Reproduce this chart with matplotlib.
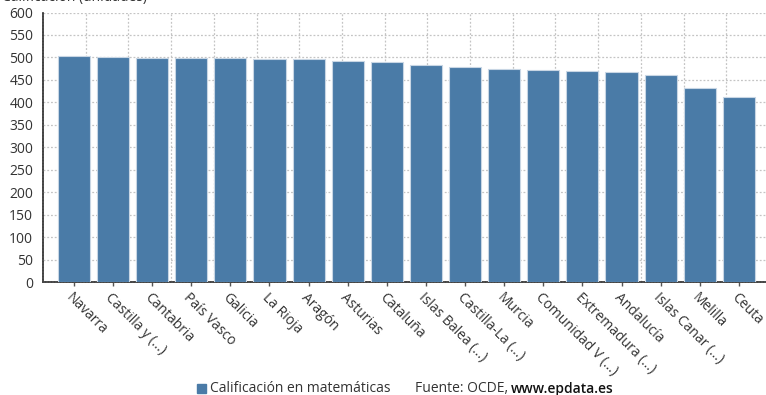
import matplotlib.pyplot as plt
from matplotlib.patches import Rectangle

# Regional maths scores
regiones = ['Navarra', 'Castilla y (...)', 'Cantabria', 'País Vasco', 'Galicia',
            'La Rioja', 'Aragón', 'Asturias', 'Cataluña', 'Islas Balea (...)',
            'Castilla-La (...)', 'Murcia', 'Comunidad V (...)', 'Extremadura (...)',
            'Andalucía', 'Islas Canar (...)', 'Melilla', 'Ceuta']
calificacion = [503, 502, 499, 499, 498, 497, 497, 491, 490, 483,
                479, 474, 473, 470, 467, 460, 432, 411]
yticks = list(range(0, 601, 50))

plt.rcParams['font.family'] = ['Open Sans', 'DejaVu Sans']
txt = '#333333'
bar_color = '#4a7ba7'

W, H = 766, 395
fig = plt.figure(figsize=(W / 100, H / 100), dpi=100)
ax = fig.add_axes([43 / W, (H - 282) / H, (769 - 43) / W, (282 - 12.5) / H])

x = range(len(regiones))
ax.bar(x, calificacion, width=0.82, color=bar_color, edgecolor='#c8d6e4',
       linewidth=0.8, zorder=3)

ax.set_ylim(0, 600)
ax.set_xlim(-0.79, len(regiones) - 0.23)
ax.set_yticks(yticks)
ax.set_xticks(list(x))
ax.set_xticklabels(regiones, rotation=-45, ha='left', va='top',
                   rotation_mode='anchor', fontsize=10, color=txt)
ax.tick_params(axis='x', length=3, width=1, color='#555555', pad=3)
ax.tick_params(axis='y', length=0, labelsize=10, labelcolor=txt, pad=7)
ax.yaxis.grid(True, linestyle=(0, (1.5, 1.5)), color='#c4c4c4', linewidth=0.9, zorder=0)

# vertical grid splits the plot width into 17 equal columns
grid_ax = ax.twiny()
grid_ax.set_xlim(0, 17)
grid_ax.set_xticks(range(1, 17))
grid_ax.xaxis.grid(True, linestyle=(0, (1.5, 1.5)), color='#c4c4c4', linewidth=0.9)
grid_ax.tick_params(axis='x', length=0, labeltop=False)
grid_ax.set_zorder(0)
ax.set_zorder(1)
ax.patch.set_visible(False)

for a in (ax, grid_ax):
    for s in ('top', 'right'):
        a.spines[s].set_visible(False)
    for s in ('left', 'bottom'):
        a.spines[s].set_linestyle((0, (1.2, 0.8)))
        a.spines[s].set_color('#444444')
        a.spines[s].set_linewidth(1.1)

# y axis title, partly outside the top edge
fig.text(2 / W, 1 - 1 / H, 'Calificación (unidades)', fontsize=10, color=txt,
         ha='left', va='baseline')

# legend and source line
fig.patches.append(Rectangle((197 / W, 2.5 / H), 9 / W, 9 / H, color=bar_color,
                             transform=fig.transFigure, figure=fig))
fig.text(210 / W, 2.5 / H, 'Calificación en matemáticas', fontsize=10, color=txt,
         ha='left', va='baseline')
fig.text(415 / W, 2.5 / H, 'Fuente: OCDE, ', fontsize=10, color=txt,
         ha='left', va='baseline')
fig.text(511 / W, 2.5 / H, 'www.epdata.es', fontsize=10, color='#111111',
         fontweight='semibold', ha='left', va='baseline')

fig.savefig('out.png', dpi=100)
